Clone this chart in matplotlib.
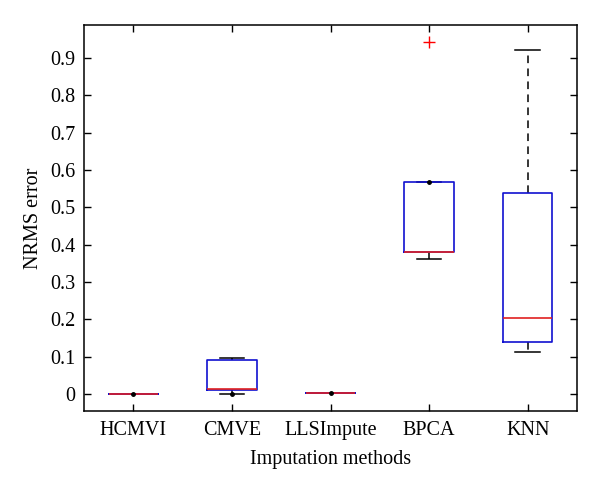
import matplotlib
matplotlib.use("Agg")
import matplotlib.pyplot as plt

# values
methods = ["HCMVI", "CMVE", "LLSImpute", "BPCA", "KNN"]
whisker_low = [0.0, 0.001, 0.002, 0.3625, 0.1117]
q1 = [0.0, 0.0107, 0.002, 0.3795, 0.1385]
median = [0.0, 0.0134, 0.002, 0.380, 0.2036]
q3 = [0.0, 0.091, 0.003, 0.568, 0.5375]
whisker_high = [0.0, 0.097, 0.003, 0.568, 0.923]
outliers = [[], [], [], [0.944], []]
dot_values = [0.0, 0.001, 0.002, 0.567, None]

yticks = [0, 0.1, 0.2, 0.3, 0.4, 0.5, 0.6, 0.7, 0.8, 0.9]

plt.rcParams["font.family"] = ["Liberation Serif", "DejaVu Serif"]

fig = plt.figure(figsize=(6.0, 4.91), dpi=100)
ax = fig.add_axes([0.14, 0.162, 0.8217, 0.788])

stats = []
for i, m in enumerate(methods):
    stats.append({
        "label": m,
        "whislo": whisker_low[i],
        "q1": q1[i],
        "med": median[i],
        "q3": q3[i],
        "whishi": whisker_high[i],
        "fliers": outliers[i],
    })

ax.bxp(
    stats,
    positions=range(1, len(methods) + 1),
    widths=0.5,
    showfliers=True,
    boxprops=dict(color="#1010d0", linewidth=1.2, zorder=2.2),
    medianprops=dict(color="#e02020", linewidth=1.2, zorder=2.3),
    whiskerprops=dict(color="black", linewidth=1.1, linestyle=(0, (5, 3.5)), zorder=2.0),
    capprops=dict(color="black", linewidth=1.1, zorder=2.0),
    flierprops=dict(marker="+", markeredgecolor="red", markersize=8, linestyle="none"),
    capwidths=0.25,
)

for i, v in enumerate(dot_values):
    if v is not None:
        ax.plot(i + 1, v, marker="o", color="black", markersize=2.5, linestyle="none", zorder=3)

ax.set_xlim(0.5, 5.5)
ax.set_ylim(-0.047, 0.99)
ax.set_yticks(yticks)
ax.set_yticklabels(["0"] + [f"{t:.1f}" for t in yticks[1:]])
ax.tick_params(direction="in", top=True, right=True, length=5, labelsize=14.5, width=1)
ax.tick_params(axis="x", pad=7)
ax.tick_params(axis="y", pad=6)
for s in ax.spines.values():
    s.set_linewidth(1.1)

ax.set_xlabel("Imputation methods", fontsize=14.5, labelpad=7)
ax.set_ylabel("NRMS error", fontsize=14.5, labelpad=5)

fig.savefig("out.png", dpi=100)
